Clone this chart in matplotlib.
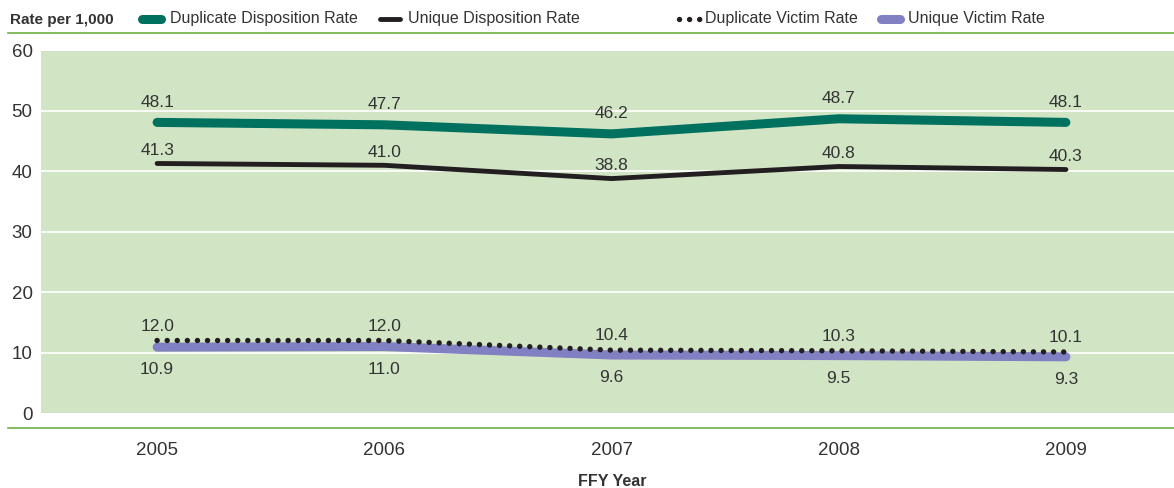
import matplotlib
matplotlib.use("Agg")
import matplotlib.pyplot as plt
from matplotlib.lines import Line2D

plt.rcParams['font.family'] = ['Liberation Sans', 'DejaVu Sans']

# data
years = [2005, 2006, 2007, 2008, 2009]
dup_disp = [48.1, 47.7, 46.2, 48.7, 48.1]
uniq_disp = [41.3, 41.0, 38.8, 40.8, 40.3]
dup_victim = [12.0, 12.0, 10.4, 10.3, 10.1]
uniq_victim = [10.9, 11.0, 9.6, 9.5, 9.3]
yticks = [0, 10, 20, 30, 40, 50, 60]
labels = ['Duplicate Disposition Rate', 'Unique Disposition Rate',
          'Duplicate Victim Rate', 'Unique Victim Rate']

teal = '#00705f'
black = '#231f20'
purple = '#8080c2'
green_bg = '#d1e5c5'
green_line = '#6cb33f'
txt = '#333333'
dotted = (0, (0.01, 1.85))

W, H = 1174, 488
fig = plt.figure(figsize=(W/100, H/100), dpi=100)
ax = fig.add_axes([41/W, 75/H, 1 - 41/W, (413 - 50.5)/H])
ax.set_facecolor(green_bg)
for s in ax.spines.values():
    s.set_visible(False)

ax.set_xlim(2005 - 116/227, 2009 + 108/227)
ax.set_ylim(0, 60)
ax.set_yticks(yticks)
ax.set_xticks(years)
ax.tick_params(length=0, labelsize=13.5, colors=txt)
ax.tick_params(axis='y', pad=6)
ax.tick_params(axis='x', pad=21)
for y in yticks[1:-1]:
    ax.axhline(y, color='white', lw=1.2, zorder=1)

ax.plot(years, dup_disp, color=teal, lw=6.5, solid_capstyle='round', zorder=3)
ax.plot(years, uniq_disp, color=black, lw=3.5, solid_capstyle='round', zorder=3)
ax.plot(years, uniq_victim, color=purple, lw=6.5, solid_capstyle='round', zorder=3)
ax.plot(years, dup_victim, color=black, lw=3.9, linestyle=dotted,
        dash_capstyle='round', zorder=4)

def label(series, dy, va):
    for x, v in zip(years, series):
        ax.annotate(f'{v:.1f}', (x, v), xytext=(0, dy), textcoords='offset points',
                    ha='center', va=va, fontsize=12.5, color=txt)

label(dup_disp, 9, 'bottom')
label(uniq_disp, 4, 'bottom')
label(dup_victim, 5, 'bottom')
label(uniq_victim, -11, 'top')

# frame lines
fig.add_artist(Line2D([8/W, 1], [1 - 33/H] * 2, color=green_line, lw=1.2))
fig.add_artist(Line2D([8/W, 1], [1 - 428/H] * 2, color=green_line, lw=1.2))

fig.text(10/W, 1 - 20/H, 'Rate per 1,000', fontsize=11, fontweight='bold',
         color=txt, va='center', ha='left')
fig.text(612/W, 1 - 482/H, 'FFY Year', fontsize=11.5, fontweight='bold',
         color=txt, va='center', ha='center')

# legend, laid out by hand
styles = [
    dict(color=teal, lw=6.5, solid_capstyle='round'),
    dict(color=black, lw=3.5, solid_capstyle='round'),
    dict(color=black, lw=3.9, linestyle=dotted, dash_capstyle='round'),
    dict(color=purple, lw=6.5, solid_capstyle='round'),
]
handle_x = [(142, 161), (380, 400), (679, 701), (881, 900)]
text_x = [170, 408, 705, 908]
ly = 1 - 19/H
for st, (x0, x1), tx, lab in zip(styles, handle_x, text_x, labels):
    fig.add_artist(Line2D([x0/W, x1/W], [ly, ly], **st))
    fig.text(tx/W, ly, lab, fontsize=11.5, color=txt, va='center', ha='left')

fig.savefig('out.png', dpi=100)
